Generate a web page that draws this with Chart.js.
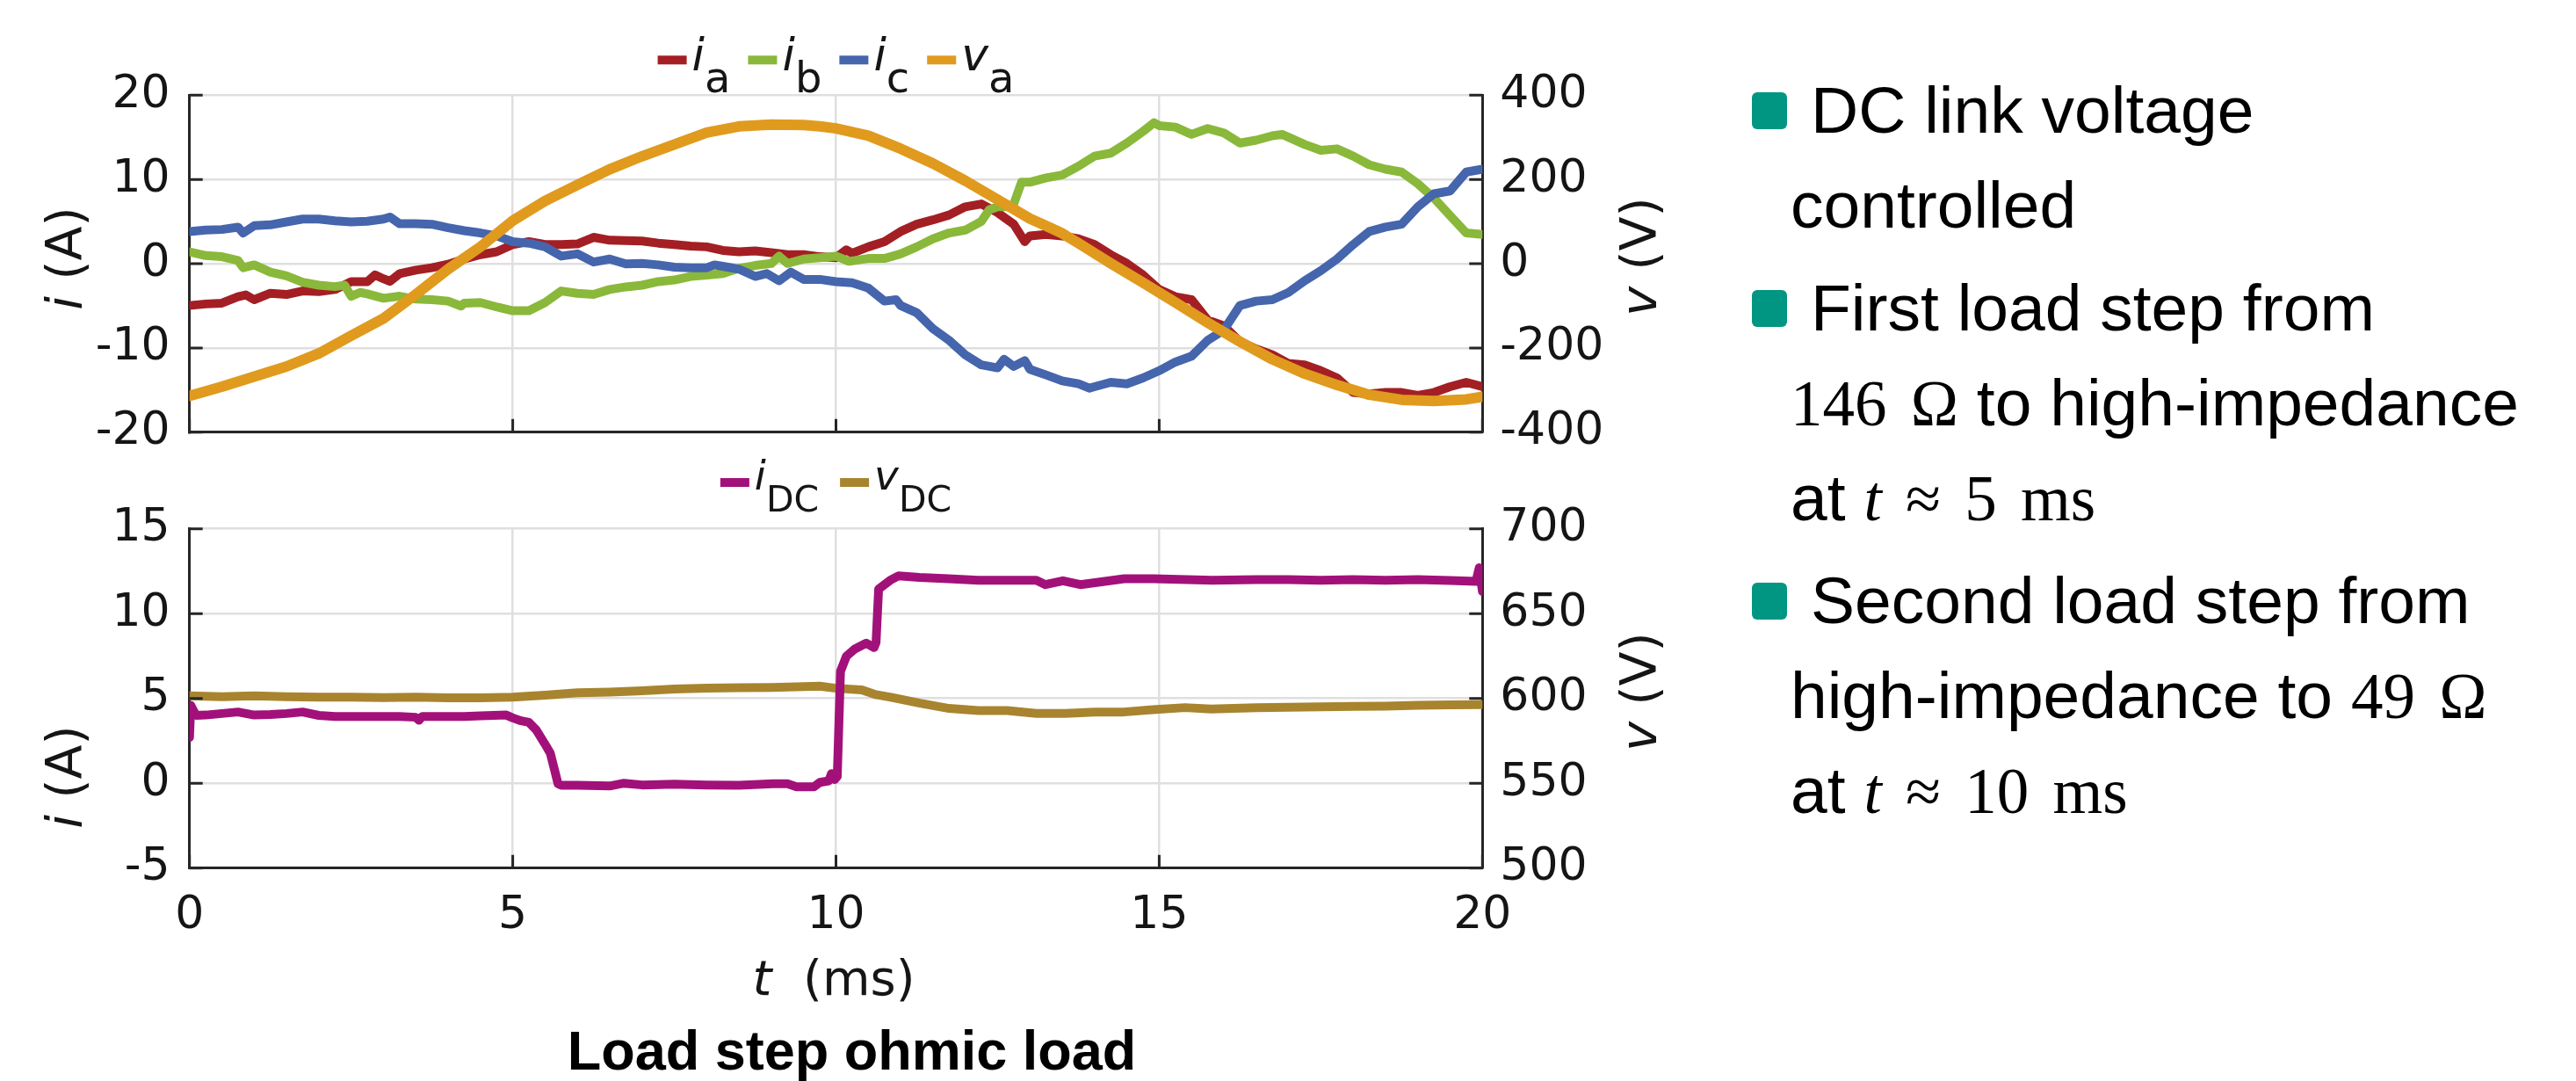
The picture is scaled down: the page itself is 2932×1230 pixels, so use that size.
<!DOCTYPE html>
<html>
<head>
<meta charset="utf-8">
<script src="https://cdn.jsdelivr.net/npm/chart.js@4.4.1/dist/chart.umd.min.js"></script>
<style>
  html, body { margin: 0; padding: 0; background: #fff; }
  body { width: 2932px; height: 1230px; position: relative; overflow: hidden; }
  canvas { position: absolute; left: 0; }
  #top_chart { top: 0; }
  #bottom_chart { top: 520px; }
  #title { position: absolute; left: 0; top: 1159px; width: 1939px; text-align: center;
           font: bold 63px "Liberation Sans", Arial, sans-serif; line-height: 72px; color: #000; }
  #notes { position: absolute; left: 2038px; top: 71px; color: #000; white-space: nowrap;
           font: 75px "Liberation Sans", Arial, sans-serif; line-height: 108px; }
  .item { position: relative; text-indent: 23px; margin-bottom: 9px; }
  .item .sq { display: block; position: absolute; left: -44px; top: 34px; width: 40px; height: 42px;
              border-radius: 6px; background: #009682; }
  .m { font-family: "Liberation Serif", "DejaVu Serif", serif; font-size: 73px; line-height: 1; word-spacing: 9px; }
</style>
</head>
<body>
<canvas id="top_chart" width="1960" height="545"></canvas>
<canvas id="bottom_chart" width="1960" height="660"></canvas>
<div id="title">Load step ohmic load</div>
<div id="notes">
  <div class="item"><span class="sq"></span>DC link voltage<br>controlled</div>
  <div class="item"><span class="sq"></span>First load step from<br><span class="m">146 Ω</span> to high-impedance<br>at <span class="m"><i>t</i> ≈ 5 ms</span></div>
  <div class="item"><span class="sq"></span>Second load step from<br>high-impedance to <span class="m">49 Ω</span><br>at <span class="m"><i>t</i> ≈ 10 ms</span></div>
</div>
<script>
// ---- data (t in ms) ----
// phase currents (A)
const t_ia = [0,0.25,0.5,0.75,0.87,1,1.25,1.5,1.75,2,2.25,2.5,2.75,2.87,3,3.1,3.25,3.5,3.75,4,4.25,4.5,4.75,5,5.25,5.5,5.75,6,6.25,6.5,6.75,7,7.25,7.5,7.75,8,8.25,8.5,8.75,9,9.25,9.5,9.75,10,10.16,10.25,10.5,10.75,11,11.25,11.5,11.75,12,12.25,12.5,12.75,12.92,13,13.25,13.5,13.75,14,14.25,14.5,14.75,15,15.25,15.5,15.75,16,16.25,16.5,16.75,17,17.25,17.5,17.75,18,18.25,18.5,18.75,19,19.25,19.5,19.75,20];
const i_a  = [-4.96,-4.78,-4.68,-3.92,-3.7,-4.27,-3.51,-3.65,-3.24,-3.3,-3.06,-2.13,-2.13,-1.34,-1.79,-2.1,-1.17,-0.76,-0.48,-0.07,0.55,1.07,1.41,2.27,2.62,2.27,2.27,2.34,3.13,2.79,2.75,2.69,2.44,2.27,2.1,2.0,1.58,1.41,1.51,1.31,1.07,1.07,0.83,0.72,1.65,1.24,2.0,2.62,3.82,4.68,5.2,5.78,6.75,7.09,6.06,4.68,2.62,3.3,3.48,3.3,2.96,2.27,1.07,0.03,-1.34,-3.06,-3.92,-4.27,-6.68,-7.37,-9.26,-10.12,-10.81,-11.84,-12.01,-12.7,-13.56,-15.28,-15.46,-15.28,-15.28,-15.63,-15.28,-14.6,-14.08,-14.6];

const t_ib = [0,0.25,0.5,0.75,0.83,1,1.25,1.5,1.75,2,2.25,2.4,2.5,2.64,2.75,3,3.25,3.5,3.75,4,4.2,4.25,4.5,4.75,5,5.25,5.5,5.75,6,6.25,6.5,6.75,7,7.25,7.5,7.75,8,8.25,8.5,8.75,9,9.12,9.25,9.5,9.75,10,10.2,10.5,10.75,11,11.25,11.5,11.75,12,12.25,12.37,12.5,12.7,12.75,12.87,13,13.25,13.5,13.75,14,14.25,14.5,14.75,14.92,15,15.25,15.5,15.75,16,16.25,16.5,16.75,16.9,17,17.25,17.5,17.75,18,18.25,18.5,18.75,19,19.25,19.5,19.75,20];
const i_b  = [1.41,0.96,0.83,0.38,-0.48,-0.14,-1.0,-1.45,-2.2,-2.55,-2.72,-2.55,-3.86,-3.41,-3.58,-4.1,-3.86,-4.2,-4.27,-4.44,-5.03,-4.68,-4.61,-5.13,-5.58,-5.58,-4.61,-3.24,-3.51,-3.65,-3.06,-2.75,-2.55,-2.13,-1.93,-1.51,-1.34,-1.17,-0.55,-0.21,0.03,0.9,0.03,0.55,0.72,0.9,0.28,0.62,0.62,1.17,2.0,2.96,3.65,3.99,5.03,6.4,6.75,6.75,7.09,9.67,9.67,10.19,10.53,11.57,12.77,13.12,14.32,15.7,16.73,16.39,16.21,15.35,16.04,15.52,14.32,14.66,15.18,15.35,15.01,14.15,13.46,13.63,12.77,11.74,11.22,10.88,9.5,7.78,5.71,3.65,3.48];

const t_ic = [0,0.25,0.5,0.75,0.83,1,1.25,1.5,1.75,2,2.25,2.5,2.75,3,3.1,3.25,3.5,3.75,4,4.25,4.5,4.75,5,5.25,5.5,5.75,6,6.25,6.5,6.75,7,7.25,7.5,7.75,8,8.12,8.25,8.5,8.75,8.93,9.12,9.3,9.5,9.75,10,10.25,10.5,10.75,10.93,11,11.25,11.5,11.75,12,12.25,12.5,12.6,12.75,12.92,13,13.25,13.5,13.75,13.92,14,14.25,14.5,14.75,15,15.25,15.5,15.75,16,16.25,16.5,16.75,17,17.25,17.5,17.75,18,18.25,18.5,18.75,19,19.25,19.5,19.75,20];
const i_c  = [3.82,3.99,4.06,4.34,3.65,4.51,4.61,4.96,5.3,5.3,5.09,4.96,5.03,5.3,5.54,4.75,4.75,4.68,4.27,3.92,3.65,3.3,2.62,2.44,2.0,0.9,1.17,0.2,0.55,-0.03,0.03,-0.14,-0.41,-0.48,-0.48,-0.14,-0.31,-0.65,-1.51,-1.17,-2.03,-1.0,-1.86,-1.86,-2.13,-2.27,-2.89,-4.44,-4.27,-4.96,-5.82,-7.71,-9.09,-10.81,-12.01,-12.36,-11.33,-12.19,-11.5,-12.53,-13.2,-13.91,-14.25,-14.77,-14.6,-14.08,-14.25,-13.56,-12.7,-11.67,-10.98,-9.09,-7.88,-4.96,-4.44,-4.27,-3.41,-2.03,-0.83,0.55,2.27,3.82,4.34,4.68,6.75,8.3,8.64,10.88,11.22];

// phase voltage (V)
const t_va = [0,0.5,1,1.5,2,2.5,3,3.5,4,4.5,5,5.5,6,6.5,7,7.5,8,8.5,9,9.5,9.75,10,10.5,11,11.5,12,12.5,13,13.25,13.5,13.75,14.25,14.75,15.25,15.75,16.25,16.75,17.25,17.75,18.25,18.75,19.25,19.75,20];
const v_a  = [-314,-292,-268,-244,-213,-171,-130,-73,-13,40,102,149,187,224,255,283,311,326,330,329,326,321,304,273,238,197,152,107,90,72,49,1,-45,-92,-140,-185,-227,-261,-288,-311,-323,-326,-322,-316];

// DC side
const t_idc = [0,0.02,0.1,0.25,0.5,0.75,1,1.25,1.5,1.75,2,2.25,2.75,3.25,3.5,3.55,3.6,3.75,4.25,4.5,4.9,5,5.13,5.25,5.36,5.5,5.58,5.65,5.7,5.75,6,6.5,6.72,7,7.5,8,8.5,9.03,9.25,9.39,9.66,9.75,9.89,9.93,9.98,10.02,10.07,10.16,10.29,10.47,10.59,10.62,10.66,10.84,10.97,11.29,11.74,12.2,12.65,13.1,13.24,13.51,13.78,14.46,14.91,15.82,16.5,17,17.5,18,18.5,19,19.5,19.9,19.95,20];
const i_dc  = [2.7,4.6,4.0,4.02,4.11,4.2,4.02,4.05,4.11,4.2,4.0,3.94,3.94,3.94,3.89,3.71,3.94,3.94,3.94,3.98,4.02,3.85,3.68,3.59,3.16,2.3,1.78,0.74,-0.03,-0.12,-0.12,-0.16,0.0,-0.1,-0.05,-0.1,-0.12,-0.03,-0.03,-0.21,-0.21,0.05,0.14,0.57,0.22,0.4,6.6,7.48,7.91,8.26,8.0,8.3,11.45,11.97,12.23,12.14,12.06,11.97,11.97,11.97,11.71,11.94,11.71,12.06,12.06,11.97,12.0,12.0,11.97,12.0,11.97,12.0,11.95,11.9,12.7,11.3];

const t_vdc = [0,0.5,1,1.5,2,2.5,3,3.5,4,4.5,5,5.5,6,6.5,7,7.5,8,8.5,9,9.5,9.75,10,10.4,10.6,10.85,11.3,11.75,12.2,12.65,13.1,13.55,14,14.45,14.9,15.4,15.8,16.5,17,17.5,18,18.5,19,19.5,20];
const v_dc  = [601.5,601,601.5,601,600.7,600.7,600.5,600.7,600.4,600.4,600.7,601.9,603.3,603.7,604.5,605.5,606,606.3,606.5,607,607.2,606,605,602.4,600.7,597.2,594.1,592.9,592.9,591.2,591.2,592,592,593.4,594.6,593.8,594.5,594.8,595,595.3,595.5,596,596.2,596.4];

// ---- styling ----
const fontFamily = '"DejaVu Sans", sans-serif';
const textColor = '#151515';
const axisColor = '#262626';
const gridColor = '#dfdfdf';
const c_ia = '#a31f24', c_ib = '#8ab83a', c_ic = '#4565ad', c_va = '#e09a1e';
const c_idc = '#a2117a', c_vdc = '#a8842f';

Chart.defaults.font.family = fontFamily;
Chart.defaults.font.size = 52;
Chart.defaults.color = textColor;

function pts(tt, vv) {
  return tt.map((t, k) => ({x: t, y: vv[k]}));
}

function line(label, tt, vv, color, axis, order, width) {
  return {
    label: label, data: pts(tt, vv), yAxisID: axis, order: order,
    borderColor: color, backgroundColor: color, borderWidth: width,
    pointRadius: 0, tension: 0, borderJoinStyle: 'round', borderCapStyle: 'round'
  };
}

function drawParts(ctx, parts, size, x, y, rotate) {
  ctx.save();
  ctx.translate(x, y);
  if (rotate) ctx.rotate(-Math.PI / 2);
  ctx.textBaseline = 'middle';
  ctx.textAlign = 'left';
  ctx.fillStyle = textColor;
  let total = 0;
  const widths = parts.map(p => {
    ctx.font = (p[1] ? 'italic ' : '') + size + 'px ' + fontFamily;
    const w = ctx.measureText(p[0]).width;
    total += w;
    return w;
  });
  let cx = -total / 2;
  parts.forEach((p, k) => {
    ctx.font = (p[1] ? 'italic ' : '') + size + 'px ' + fontFamily;
    ctx.fillText(p[0], cx, 0);
    cx += widths[k];
  });
  ctx.restore();
}

// legend with subscripts, axis titles and matlab style inward ticks
const decorPlugin = {
  id: 'decor',
  afterDraw(chart, args, o) {
    const ctx = chart.ctx;
    const area = chart.chartArea;
    const x = chart.scales.x, yl = chart.scales.y, yr = chart.scales.y1;
    const tl = 15;

    ctx.save();
    ctx.strokeStyle = axisColor;
    ctx.lineWidth = 3;
    ctx.beginPath();
    x.ticks.forEach(t => {
      const px = x.getPixelForValue(t.value);
      ctx.moveTo(px, area.bottom);
      ctx.lineTo(px, area.bottom - tl);
    });
    yl.ticks.forEach(t => {
      const py = yl.getPixelForValue(t.value);
      ctx.moveTo(area.left, py);
      ctx.lineTo(area.left + tl, py);
    });
    yr.ticks.forEach(t => {
      const py = yr.getPixelForValue(t.value);
      ctx.moveTo(area.right, py);
      ctx.lineTo(area.right - tl, py);
    });
    ctx.stroke();
    ctx.restore();

    // legend
    ctx.save();
    const items = o.legendItems.map(it => {
      ctx.font = 'italic ' + o.mainSize + 'px ' + fontFamily;
      const mw = ctx.measureText(it.main).width;
      ctx.font = o.subSize + 'px ' + fontFamily;
      const sw = ctx.measureText(it.sub).width;
      return {it: it, mw: mw, w: 39 + mw + sw};
    });
    const total = items.reduce((a, b) => a + b.w, 0) + o.itemGap * (items.length - 1);
    let lx = (area.left + area.right) / 2 - total / 2;
    ctx.textAlign = 'left';
    ctx.textBaseline = 'alphabetic';
    items.forEach(m => {
      ctx.fillStyle = m.it.color;
      ctx.fillRect(lx, o.legendY - 5, 33, 10);
      ctx.fillStyle = textColor;
      ctx.font = 'italic ' + o.mainSize + 'px ' + fontFamily;
      ctx.fillText(m.it.main, lx + 39, o.legendBaseline);
      ctx.font = o.subSize + 'px ' + fontFamily;
      ctx.fillText(m.it.sub, lx + 39 + m.mw, o.legendBaseline + o.subDrop);
      lx += m.w + o.itemGap;
    });
    ctx.restore();

    drawParts(ctx, o.leftTitle.parts, 57, o.leftTitle.x, o.leftTitle.y, true);
    drawParts(ctx, o.rightTitle.parts, 57, o.rightTitle.x, o.rightTitle.y, true);
    if (o.xTitle) drawParts(ctx, o.xTitle.parts, 56, o.xTitle.x, o.xTitle.y, false);
  }
};

function scalesFor(yMin, yMax, yStep, rMin, rMax, rStep, showX, xHeight, canvasW) {
  const grid = {color: gridColor, lineWidth: 2.5, drawTicks: false};
  const border = {display: true, color: axisColor, width: 3};
  return {
    x: {
      type: 'linear', min: 0, max: 20,
      ticks: {stepSize: 5, display: showX, padding: 24, maxRotation: 0},
      grid: grid, border: border,
      afterFit(s) { s.height = xHeight; }
    },
    y: {
      position: 'left', min: yMin, max: yMax,
      ticks: {stepSize: yStep, padding: 22},
      grid: grid, border: border,
      afterFit(s) { s.width = 215.7; }
    },
    y1: {
      position: 'right', min: rMin, max: rMax,
      ticks: {stepSize: rStep, padding: 20},
      grid: {drawOnChartArea: false, drawTicks: false},
      border: border,
      afterFit(s) { s.width = canvasW - 1687.3; }
    }
  };
}

const top_Chart = new Chart(document.getElementById('top_chart'), {
  type: 'line',
  data: {
    datasets: [
      line('i_a', t_ia, i_a, c_ia, 'y', 3, 10),
      line('i_b', t_ib, i_b, c_ib, 'y', 2, 10),
      line('i_c', t_ic, i_c, c_ic, 'y', 1, 10),
      line('v_a', t_va, v_a, c_va, 'y1', 0, 12)
    ]
  },
  options: {
    responsive: false, animation: false, devicePixelRatio: 1,
    layout: {padding: {top: 108.3, left: 0, right: 0, bottom: 0}},
    scales: scalesFor(-20, 20, 10, -400, 400, 200, false, 545 - 495.7, 1960),
    plugins: {
      legend: {display: false},
      tooltip: {enabled: false},
      decor: {
        legendY: 68.3, legendBaseline: 80, subDrop: 25, mainSize: 52, subSize: 48, itemGap: 20,
        legendItems: [
          {color: c_ia, main: 'i', sub: 'a'},
          {color: c_ib, main: 'i', sub: 'b'},
          {color: c_ic, main: 'i', sub: 'c'},
          {color: c_va, main: 'v', sub: 'a'}
        ],
        leftTitle: {x: 78, y: 294, parts: [['i', true], [' (A)', false]]},
        rightTitle: {x: 1870, y: 292, parts: [['v', true], [' (V)', false]]}
      }
    }
  },
  plugins: [decorPlugin]
});

const bottom_Chart = new Chart(document.getElementById('bottom_chart'), {
  type: 'line',
  data: {
    datasets: [
      line('i_DC', t_idc, i_dc, c_idc, 'y', 0, 10),
      line('v_DC', t_vdc, v_dc, c_vdc, 'y1', 1, 10)
    ]
  },
  options: {
    responsive: false, animation: false, devicePixelRatio: 1,
    layout: {padding: {top: 81.7, left: 0, right: 0, bottom: 0}},
    scales: scalesFor(-5, 15, 5, 500, 700, 50, true, 660 - 467.7, 1960),
    plugins: {
      legend: {display: false},
      tooltip: {enabled: false},
      decor: {
        legendY: 29, legendBaseline: 36.7, subDrop: 25.3, mainSize: 47, subSize: 41, itemGap: 24,
        legendItems: [
          {color: c_idc, main: 'i', sub: 'DC'},
          {color: c_vdc, main: 'v', sub: 'DC'}
        ],
        leftTitle: {x: 78, y: 364, parts: [['i', true], [' (A)', false]]},
        rightTitle: {x: 1870, y: 267, parts: [['v', true], [' (V)', false]]},
        xTitle: {x: 949, y: 597, parts: [['t', true], ['  (ms)', false]]}
      }
    }
  },
  plugins: [decorPlugin]
});
</script>
</body>
</html>
